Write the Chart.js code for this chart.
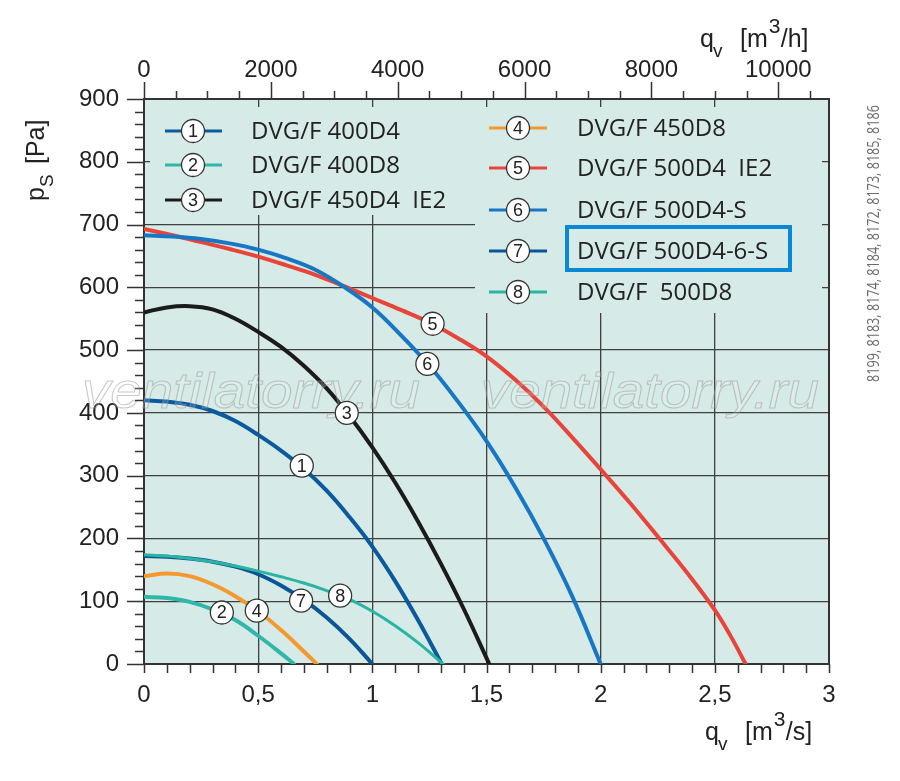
<!DOCTYPE html>
<html>
<head>
<meta charset="utf-8">
<script src="https://cdn.jsdelivr.net/npm/chart.js@4.4.1/dist/chart.umd.min.js"></script>
<style>
  body { margin: 0; background: #ffffff; }
  #wrap { width: 900px; height: 781px; position: relative; }
</style>
</head>
<body>
<div id="wrap"><canvas id="fanChart" width="900" height="781"></canvas></div>
<script>
// curve data: q in m3/s, p in Pa
const q1 = [0, 0.1, 0.2, 0.3, 0.4, 0.5, 0.6, 0.7, 0.8, 0.9, 1.0, 1.1, 1.2, 1.304];
const p1 = [420, 418, 413, 403, 387, 365, 340, 311, 276, 234, 187, 132, 70, 0];
const q2 = [0, 0.1, 0.2, 0.3, 0.4, 0.5, 0.6, 0.657];
const p2 = [107, 105, 99, 87, 70, 45, 17, 0];
const q3 = [0, 0.1, 0.2, 0.3, 0.4, 0.5, 0.6, 0.7, 0.8, 0.9, 1.0, 1.1, 1.2, 1.3, 1.4, 1.512];
const p3 = [560, 568, 570, 565, 550, 529, 505, 475, 439, 395, 345, 289, 227, 160, 88, 0];
const q4 = [0, 0.1, 0.2, 0.3, 0.4, 0.5, 0.6, 0.7, 0.757];
const p4 = [140, 144, 140, 127, 108, 84, 54, 20, 0];
const q5 = [0, 0.125, 0.25, 0.375, 0.5, 0.625, 0.75, 0.875, 1.0, 1.125, 1.25, 1.375, 1.5,
            1.625, 1.75, 1.875, 2.0, 2.125, 2.25, 2.375, 2.5, 2.57, 2.635];
const p5 = [693, 683, 672, 661, 649, 635, 620, 602, 583, 564, 544, 519, 490,
            453, 410, 361, 310, 258, 203, 147, 86, 44, 0];
const q6 = [0, 0.125, 0.25, 0.375, 0.5, 0.625, 0.75, 0.875, 1.0, 1.125, 1.25, 1.375, 1.5,
            1.625, 1.75, 1.875, 2.0];
const p6 = [683, 681, 677, 670, 660, 646, 628, 601, 568, 524, 475, 418, 355,
            282, 200, 108, 0];
const q7 = [0, 0.1, 0.2, 0.3, 0.4, 0.5, 0.6, 0.7, 0.8, 0.9, 1.0];
const p7 = [172, 171, 168, 163, 155, 143, 125, 102, 74, 40, 0];
const q8 = [0, 0.1, 0.2, 0.3, 0.4, 0.5, 0.6, 0.7, 0.8, 0.9, 1.0, 1.1, 1.2, 1.31];
const p8 = [174, 172, 168, 163, 156, 148, 139, 129, 117, 103, 84, 61, 34, 0];

const curveNames = ['DVG/F 400D4', 'DVG/F 400D8', 'DVG/F 450D4  IE2', 'DVG/F 450D8',
                    'DVG/F 500D4  IE2', 'DVG/F 500D4-S', 'DVG/F 500D4-6-S', 'DVG/F  500D8'];
const curveColors = ['#0b5a9e', '#2fb7a8', '#1b1b1b', '#f5992f', '#e8443a', '#1877c4', '#0b5597', '#2ab5a2'];
const curveWidths = [4, 4, 4, 4, 4, 4, 4, 3];

// where the circled numbers sit on the curves [q, p]
const markerQ = [0.691, 0.341, 0.888, 0.494, 1.264, 1.241, 0.688, 0.859];
const markerP = [316, 82, 400, 85, 542, 478, 101, 109];

const qTicks = [0, 0.5, 1, 1.5, 2, 2.5, 3];
const hourTicks = [0, 2000, 4000, 6000, 8000, 10000];
const paTicks = [0, 100, 200, 300, 400, 500, 600, 700, 800, 900];

const allQ = [q1, q2, q3, q4, q5, q6, q7, q8];
const allP = [p1, p2, p3, p4, p5, p6, p7, p8];

const BG = '#d6ebe7';
const GRID = '#3f3f3f';
const INK = '#222222';

function toPoints(qs, ps) {
    return qs.map(function(q, i) { return { x: q, y: ps[i] }; });
}

// circled number like on the original sheet
function circledNumber(ctx, x, y, n) {
    ctx.beginPath();
    ctx.arc(x, y, 11.5, 0, Math.PI * 2);
    ctx.fillStyle = '#ffffff';
    ctx.fill();
    ctx.lineWidth = 1.3;
    ctx.strokeStyle = '#333333';
    ctx.stroke();
    ctx.fillStyle = INK;
    ctx.font = '18px "Liberation Sans", Arial, sans-serif';
    ctx.textAlign = 'center';
    ctx.textBaseline = 'middle';
    ctx.fillText(String(n), x, y + 1);
}

const plotBackground = {
    id: 'plotBackground',
    beforeDraw: function(chart) {
        const a = chart.chartArea, ctx = chart.ctx;
        ctx.save();
        ctx.fillStyle = BG;
        ctx.fillRect(a.left, a.top, a.right - a.left, a.bottom - a.top);
        ctx.restore();
    }
};

const sheetDecor = {
    id: 'sheetDecor',
    beforeDatasetsDraw: function(chart) {
        const ctx = chart.ctx, a = chart.chartArea;
        const xs = chart.scales.x, ys = chart.scales.y, xh = chart.scales.x2;
        ctx.save();
        // legend panels hide the grid behind them
        ctx.fillStyle = BG;
        ctx.fillRect(a.left + 6, a.top + 8, 475 - a.left - 6, 215 - a.top - 8);
        ctx.fillRect(475, a.top + 8, a.right - 7 - 475, 313 - a.top - 8);

        // tick marks
        ctx.strokeStyle = '#333333';
        ctx.lineWidth = 1.5;
        ctx.beginPath();
        for (let p = 0; p <= 900; p += 20) {
            const y = Math.round(ys.getPixelForValue(p)) + 0.5;
            const len = (p % 100 === 0) ? 17 : 9;
            ctx.moveTo(a.left - len, y);
            ctx.lineTo(a.left, y);
        }
        for (let i = 0; i <= 30; i++) {
            const x = Math.round(xs.getPixelForValue(i / 10)) + 0.5;
            ctx.moveTo(x, a.bottom);
            ctx.lineTo(x, a.bottom + 9);
        }
        for (let h = 0; h <= 10500; h += 500) {
            const x = Math.round(xh.getPixelForValue(h)) + 0.5;
            const len = (h % 2000 === 0) ? 17 : 8;
            ctx.moveTo(x, a.top);
            ctx.lineTo(x, a.top - len);
        }
        ctx.stroke();

        // right frame
        ctx.lineWidth = 2;
        ctx.beginPath();
        ctx.moveTo(a.right, a.top - 1);
        ctx.lineTo(a.right, a.bottom + 1);
        ctx.stroke();
        ctx.restore();
    },
    afterDatasetsDraw: function(chart) {
        const ctx = chart.ctx;
        const xs = chart.scales.x, ys = chart.scales.y;
        ctx.save();

        // watermark
        ctx.font = 'italic 50px "Liberation Sans", Arial, sans-serif';
        ctx.textAlign = 'left';
        ctx.textBaseline = 'alphabetic';
        ctx.lineWidth = 1;
        ctx.strokeStyle = 'rgba(150,150,150,0.5)';
        ctx.fillStyle = 'rgba(255,255,255,0.15)';
        [82, 481].forEach(function(x0) {
            const w = ctx.measureText('ventilatorry.ru').width;
            ctx.save();
            ctx.translate(x0, 408);
            ctx.scale(338 / w, 1);
            ctx.fillText('ventilatorry.ru', 0, 0);
            ctx.strokeText('ventilatorry.ru', 0, 0);
            ctx.restore();
        });

        // numbers on the curves
        for (let i = 0; i < markerQ.length; i++) {
            circledNumber(ctx, xs.getPixelForValue(markerQ[i]), ys.getPixelForValue(markerP[i]), i + 1);
        }

        // legend
        const rows = [
            [165, 222, 193, 251, 131], [165, 222, 193, 251, 165], [165, 222, 193, 251, 200],
            [489, 547, 518, 577, 128], [489, 547, 518, 577, 168], [489, 547, 518, 577, 210],
            [489, 547, 518, 577, 251], [489, 547, 518, 577, 292]
        ];
        rows.forEach(function(r, i) {
            ctx.beginPath();
            ctx.moveTo(r[0], r[4]);
            ctx.lineTo(r[1], r[4]);
            ctx.strokeStyle = curveColors[i];
            ctx.lineWidth = 3;
            ctx.stroke();
            circledNumber(ctx, r[2], r[4], i + 1);
            ctx.fillStyle = INK;
            ctx.font = '24px "Open Sans", sans-serif';
            ctx.textAlign = 'left';
            ctx.textBaseline = 'middle';
            ctx.fillText(curveNames[i], r[3], r[4] + 1);
        });
        // highlight frame around 500D4-6-S
        ctx.strokeStyle = '#0a88d6';
        ctx.lineWidth = 4;
        ctx.strokeRect(567, 227, 223, 43);

        // axis titles
        ctx.fillStyle = INK;
        ctx.textAlign = 'left';
        ctx.textBaseline = 'alphabetic';
        const big = '25px "Liberation Sans", Arial, sans-serif';
        const small = '19px "Liberation Sans", Arial, sans-serif';
        function unitTitle(x, y, tail) {
            ctx.font = big; ctx.fillText('q', x, y);
            ctx.font = small; ctx.fillText('v', x + 13, y + 10);
            ctx.font = big; ctx.fillText('[m', x + 40, y);
            let w = ctx.measureText('[m').width;
            ctx.font = '21px "Liberation Sans", Arial, sans-serif';
            ctx.fillText('3', x + 40 + w + 1, y - 14);
            ctx.font = big; ctx.fillText(tail, x + 40 + w + 13, y);
        }
        unitTitle(700, 47, '/h]');
        unitTitle(705, 740, '/s]');

        ctx.save();
        ctx.translate(44, 201);
        ctx.rotate(-Math.PI / 2);
        ctx.font = big; ctx.fillText('p', 0, 0);
        ctx.font = small; ctx.fillText('S', 14, 9);
        ctx.font = big; ctx.fillText('[Pa]', 37, 0);
        ctx.restore();

        // catalogue numbers at the side
        ctx.save();
        ctx.translate(879, 382);
        ctx.rotate(-Math.PI / 2);
        ctx.font = '17px "Open Sans", sans-serif';
        ctx.fillStyle = '#6a6a6a';
        const side = '8199, 8183, 8174, 8184, 8172, 8173, 8185, 8186';
        const sw = ctx.measureText(side).width;
        ctx.scale(277 / sw, 1);
        ctx.fillText(side, 0, 0);
        ctx.restore();

        ctx.restore();
    }
};

const tickFont = { family: '"Liberation Sans", Arial, sans-serif', size: 24 };

new Chart(document.getElementById('fanChart'), {
    type: 'line',
    data: {
        datasets: allQ.map(function(qs, i) {
            return {
                label: curveNames[i],
                data: toPoints(qs, allP[i]),
                borderColor: curveColors[i],
                borderWidth: curveWidths[i],
                pointRadius: 0,
                fill: false,
                tension: 0.4,
                borderCapStyle: 'round',
                borderJoinStyle: 'round',
                xAxisID: 'x',
                yAxisID: 'y'
            };
        }).reverse()
    },
    options: {
        responsive: false,
        animation: false,
        devicePixelRatio: 1,
        layout: { padding: { left: 0, right: 71, top: 0, bottom: 0 } },
        plugins: { legend: { display: false }, tooltip: { enabled: false } },
        scales: {
            x: {
                type: 'linear', position: 'bottom', min: 0, max: 3,
                afterBuildTicks: function(s) { s.ticks = qTicks.map(function(v) { return { value: v }; }); },
                afterFit: function(s) { s.height = 117; },
                ticks: {
                    font: tickFont, color: INK, padding: 17, maxRotation: 0,
                    callback: function(v) { return String(v).replace('.', ','); }
                },
                grid: { color: GRID, lineWidth: 1.3, drawTicks: false },
                border: { display: true, color: '#333333', width: 2 }
            },
            x2: {
                type: 'linear', position: 'top', min: 0, max: 10800,
                afterBuildTicks: function(s) { s.ticks = hourTicks.map(function(v) { return { value: v }; }); },
                afterFit: function(s) { s.height = 99; },
                ticks: {
                    font: tickFont, color: INK, padding: 14, maxRotation: 0,
                    callback: function(v) { return String(v); }
                },
                grid: { display: false, drawTicks: false },
                border: { display: true, color: '#333333', width: 2 }
            },
            y: {
                type: 'linear', position: 'left', min: 0, max: 900,
                afterBuildTicks: function(s) { s.ticks = paTicks.map(function(v) { return { value: v }; }); },
                afterFit: function(s) { s.width = 144; },
                ticks: { font: tickFont, color: INK, padding: 25 },
                grid: { color: GRID, lineWidth: 1.3, drawTicks: false },
                border: { display: true, color: '#333333', width: 2 }
            }
        }
    },
    plugins: [plotBackground, sheetDecor]
});
</script>
</body>
</html>
